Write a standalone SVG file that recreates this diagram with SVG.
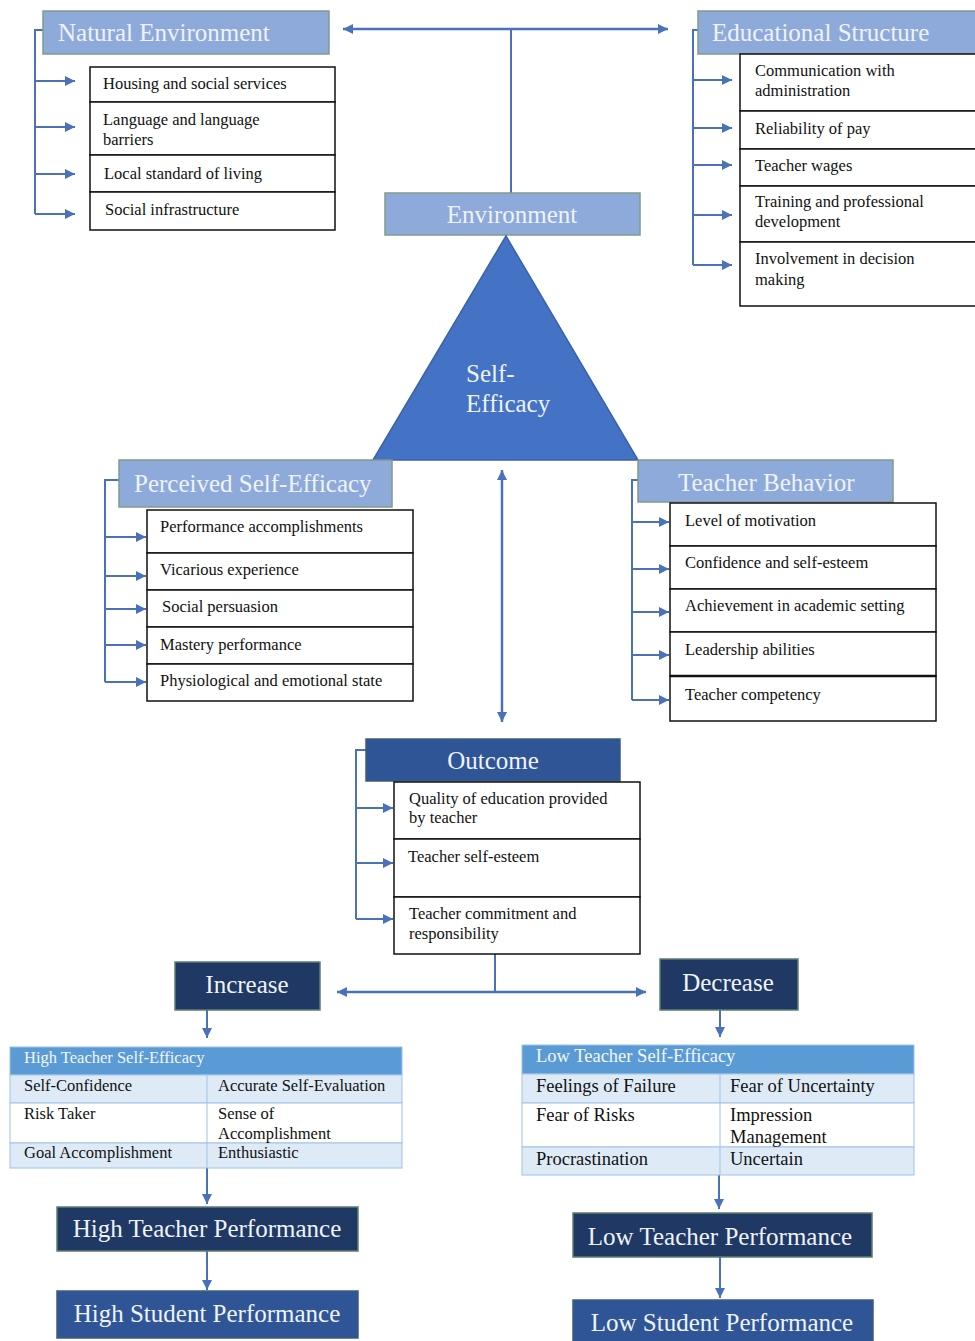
<svg xmlns="http://www.w3.org/2000/svg" width="975" height="1341" viewBox="0 0 975 1341">
<defs>
<marker id="ah" viewBox="0 0 10 10" refX="10" refY="5" markerWidth="11" markerHeight="10" markerUnits="userSpaceOnUse" orient="auto-start-reverse">
<path d="M0,0 L10,5 L0,10 Z" fill="#4a72b8"/>
</marker>
<style>
.hdr{fill:#8eaadb;stroke:#7e9c8a;stroke-width:1.5}
.dark{fill:#2f5597;stroke:#3d5d7a;stroke-width:1.5}
.navy{fill:#1f3864;stroke:#5f7f6f;stroke-width:1.5}
.ht{font-family:"Liberation Serif",serif;font-size:25px;fill:#eef3fa}
.hc{font-family:"Liberation Serif",serif;font-size:25px;fill:#eef3fa;text-anchor:middle}
.cell{fill:#ffffff;stroke:#111111;stroke-width:1.5}
.tt{font-family:"Liberation Serif",serif;font-size:16.5px;fill:#111111}
.bt{font-family:"Liberation Serif",serif;font-size:16.5px;fill:#111111}
.lt{font-family:"Liberation Serif",serif;font-size:18.5px;fill:#111111}
.bh{fill:#5b9bd5;stroke:#9dc3e6;stroke-width:1}
.bl{fill:#deebf7;stroke:#9dc3e6;stroke-width:1}
.bw{fill:#ffffff;stroke:#9dc3e6;stroke-width:1}
.bht{font-family:"Liberation Serif",serif;font-size:16.5px;fill:#f2f6fb}
.lht{font-family:"Liberation Serif",serif;font-size:18.5px;fill:#f2f6fb}
.ln{fill:none;stroke:#4a72b8;stroke-width:2}
.arr{fill:none;stroke:#4a72b8;stroke-width:2;marker-end:url(#ah)}
.arr2{fill:none;stroke:#4a72b8;stroke-width:2.5;marker-end:url(#ah);marker-start:url(#ah)}
</style>
</defs>
<rect width="975" height="1341" fill="#ffffff"/>

<g id="connectors">
<!-- top environment connector -->
<line class="arr2" x1="343" y1="29" x2="668" y2="29"/>
<line class="ln" x1="511" y1="29" x2="511" y2="193"/>
<!-- natural environment bracket -->
<polyline class="ln" points="43,30 35,30 35,214"/>
<line class="arr" x1="35" y1="81" x2="75" y2="81"/>
<line class="arr" x1="35" y1="127" x2="75" y2="127"/>
<line class="arr" x1="35" y1="174" x2="75" y2="174"/>
<line class="arr" x1="35" y1="214" x2="75" y2="214"/>
<!-- educational structure bracket -->
<polyline class="ln" points="698,30 693,30 693,265"/>
<line class="arr" x1="693" y1="80" x2="732" y2="80"/>
<line class="arr" x1="693" y1="128" x2="732" y2="128"/>
<line class="arr" x1="693" y1="165" x2="732" y2="165"/>
<line class="arr" x1="693" y1="215" x2="732" y2="215"/>
<line class="arr" x1="693" y1="265" x2="732" y2="265"/>
<!-- perceived bracket -->
<polyline class="ln" points="119,480 105,480 105,682"/>
<line class="arr" x1="105" y1="537" x2="146" y2="537"/>
<line class="arr" x1="105" y1="576" x2="146" y2="576"/>
<line class="arr" x1="105" y1="609" x2="146" y2="609"/>
<line class="arr" x1="105" y1="645" x2="146" y2="645"/>
<line class="arr" x1="105" y1="682" x2="146" y2="682"/>
<!-- teacher behavior bracket -->
<polyline class="ln" points="638,480 632,480 632,700"/>
<line class="arr" x1="632" y1="522" x2="669" y2="522"/>
<line class="arr" x1="632" y1="569" x2="669" y2="569"/>
<line class="arr" x1="632" y1="612" x2="669" y2="612"/>
<line class="arr" x1="632" y1="655" x2="669" y2="655"/>
<line class="arr" x1="632" y1="700" x2="669" y2="700"/>
<!-- middle double arrow -->
<line class="arr2" x1="502" y1="470" x2="502" y2="722"/>
<!-- outcome bracket -->
<polyline class="ln" points="366,750 356,750 356,919"/>
<line class="arr" x1="356" y1="808" x2="393" y2="808"/>
<line class="arr" x1="356" y1="863" x2="393" y2="863"/>
<line class="arr" x1="356" y1="919" x2="393" y2="919"/>
<!-- outcome to increase/decrease -->
<line class="ln" x1="495" y1="954" x2="495" y2="992"/>
<line class="arr2" x1="337" y1="992" x2="646" y2="992"/>
<!-- down arrows -->
<line class="arr" x1="207" y1="1010" x2="207" y2="1038"/>
<line class="arr" x1="207" y1="1168" x2="207" y2="1204"/>
<line class="arr" x1="207" y1="1251" x2="207" y2="1290"/>
<line class="arr" x1="720" y1="1010" x2="720" y2="1037"/>
<line class="arr" x1="719" y1="1175" x2="719" y2="1209"/>
<line class="arr" x1="720" y1="1257" x2="720" y2="1298"/>
</g>

<g id="natural-environment">
<rect class="hdr" x="43" y="11" width="286" height="43"/>
<text class="ht" x="58" y="41">Natural Environment</text>
<rect class="cell" x="90" y="67" width="245" height="35"/>
<rect class="cell" x="90" y="102" width="245" height="53"/>
<rect class="cell" x="90" y="155" width="245" height="37"/>
<rect class="cell" x="90" y="192" width="245" height="38"/>
<text class="tt" x="103" y="89">Housing and social services</text>
<text class="tt" x="103" y="125">Language and language</text>
<text class="tt" x="103" y="145">barriers</text>
<text class="tt" x="104" y="179">Local standard of living</text>
<text class="tt" x="105" y="215">Social infrastructure</text>
</g>

<g id="educational-structure">
<rect class="hdr" x="698" y="11" width="280" height="43"/>
<text class="ht" x="712" y="41">Educational Structure</text>
<rect class="cell" x="740" y="54" width="238" height="57"/>
<rect class="cell" x="740" y="111" width="238" height="38"/>
<rect class="cell" x="740" y="149" width="238" height="37"/>
<rect class="cell" x="740" y="186" width="238" height="56"/>
<rect class="cell" x="740" y="242" width="238" height="64"/>
<text class="tt" x="755" y="76">Communication with</text>
<text class="tt" x="755" y="96">administration</text>
<text class="tt" x="755" y="134">Reliability of pay</text>
<text class="tt" x="755" y="171">Teacher wages</text>
<text class="tt" x="755" y="207">Training and professional</text>
<text class="tt" x="755" y="227">development</text>
<text class="tt" x="755" y="264">Involvement in decision</text>
<text class="tt" x="755" y="285">making</text>
</g>

<g id="environment">
<rect class="hdr" x="385" y="193" width="255" height="42"/>
<text class="hc" x="512" y="223">Environment</text>
</g>

<g id="self-efficacy">
<polygon points="506,236 373,460 638,460" fill="#4472c4" stroke="#3a62a8" stroke-width="1.5"/>
<text class="ht" x="466" y="382">Self-</text>
<text class="ht" x="466" y="412">Efficacy</text>
</g>

<g id="perceived-self-efficacy">
<rect class="hdr" x="119" y="460" width="273" height="47"/>
<text class="ht" x="134" y="492">Perceived Self-Efficacy</text>
<rect class="cell" x="147" y="510" width="266" height="43"/>
<rect class="cell" x="147" y="553" width="266" height="37"/>
<rect class="cell" x="147" y="590" width="266" height="37"/>
<rect class="cell" x="147" y="627" width="266" height="37"/>
<rect class="cell" x="147" y="664" width="266" height="37"/>
<text class="tt" x="160" y="532">Performance accomplishments</text>
<text class="tt" x="160" y="575">Vicarious experience</text>
<text class="tt" x="162" y="612">Social persuasion</text>
<text class="tt" x="160" y="650">Mastery performance</text>
<text class="tt" x="160" y="686">Physiological and emotional state</text>
</g>

<g id="teacher-behavior">
<rect class="hdr" x="638" y="460" width="255" height="42"/>
<text class="ht" x="678" y="491">Teacher Behavior</text>
<rect class="cell" x="670" y="503" width="266" height="43"/>
<rect class="cell" x="670" y="546" width="266" height="43"/>
<rect class="cell" x="670" y="589" width="266" height="43"/>
<rect class="cell" x="670" y="632" width="266" height="44"/>
<rect class="cell" x="670" y="676" width="266" height="45"/>
<line x1="670" y1="676" x2="936" y2="676" stroke="#111111" stroke-width="2.5"/>
<text class="tt" x="685" y="526">Level of motivation</text>
<text class="tt" x="685" y="568">Confidence and self-esteem</text>
<text class="tt" x="685" y="611">Achievement in academic setting</text>
<text class="tt" x="685" y="655">Leadership abilities</text>
<text class="tt" x="685" y="700">Teacher competency</text>
</g>

<g id="outcome">
<rect class="dark" x="366" y="739" width="254" height="42"/>
<text class="hc" x="493" y="769">Outcome</text>
<rect class="cell" x="394" y="782" width="246" height="57"/>
<rect class="cell" x="394" y="839" width="246" height="58"/>
<rect class="cell" x="394" y="897" width="246" height="57"/>
<text class="tt" x="409" y="804">Quality of education provided</text>
<text class="tt" x="409" y="823">by teacher</text>
<text class="tt" x="408" y="862">Teacher self-esteem</text>
<text class="tt" x="409" y="919">Teacher commitment and</text>
<text class="tt" x="409" y="939">responsibility</text>
</g>

<g id="increase">
<rect class="navy" x="175" y="962" width="145" height="48"/>
<text class="hc" x="247" y="993">Increase</text>
</g>

<g id="decrease">
<rect class="navy" x="660" y="959" width="138" height="51"/>
<text class="hc" x="728" y="991">Decrease</text>
</g>

<g id="high-teacher-self-efficacy">
<rect class="bh" x="10" y="1047" width="392" height="28"/>
<rect class="bl" x="10" y="1075" width="392" height="28"/>
<rect class="bw" x="10" y="1103" width="392" height="40"/>
<rect class="bl" x="10" y="1143" width="392" height="25"/>
<line x1="207" y1="1075" x2="207" y2="1168" stroke="#9dc3e6" stroke-width="1"/>
<text class="bht" x="24" y="1063">High Teacher Self-Efficacy</text>
<text class="bt" x="24" y="1091">Self-Confidence</text>
<text class="bt" x="218" y="1091">Accurate Self-Evaluation</text>
<text class="bt" x="24" y="1119">Risk Taker</text>
<text class="bt" x="218" y="1119">Sense of</text>
<text class="bt" x="218" y="1139">Accomplishment</text>
<text class="bt" x="24" y="1158">Goal Accomplishment</text>
<text class="bt" x="218" y="1158">Enthusiastic</text>
</g>

<g id="low-teacher-self-efficacy">
<rect class="bh" x="522" y="1045" width="392" height="29"/>
<rect class="bl" x="522" y="1074" width="392" height="29"/>
<rect class="bw" x="522" y="1103" width="392" height="44"/>
<rect class="bl" x="522" y="1147" width="392" height="28"/>
<line x1="720" y1="1074" x2="720" y2="1175" stroke="#9dc3e6" stroke-width="1"/>
<text class="lht" x="536" y="1062">Low Teacher Self-Efficacy</text>
<text class="lt" x="536" y="1092">Feelings of Failure</text>
<text class="lt" x="730" y="1092">Fear of Uncertainty</text>
<text class="lt" x="536" y="1121">Fear of Risks</text>
<text class="lt" x="730" y="1121">Impression</text>
<text class="lt" x="730" y="1143">Management</text>
<text class="lt" x="536" y="1165">Procrastination</text>
<text class="lt" x="730" y="1165">Uncertain</text>
</g>

<g id="high-teacher-performance">
<rect class="navy" x="57" y="1207" width="301" height="44"/>
<text class="hc" x="207" y="1237">High Teacher Performance</text>
</g>

<g id="high-student-performance">
<rect class="dark" x="57" y="1291" width="301" height="47"/>
<text class="hc" x="207" y="1322">High Student Performance</text>
</g>

<g id="low-teacher-performance">
<rect class="navy" x="573" y="1213" width="299" height="44"/>
<text class="hc" x="720" y="1245">Low Teacher Performance</text>
</g>

<g id="low-student-performance">
<rect class="dark" x="573" y="1300" width="300" height="45"/>
<text class="hc" x="722" y="1331">Low Student Performance</text>
</g>
</svg>
